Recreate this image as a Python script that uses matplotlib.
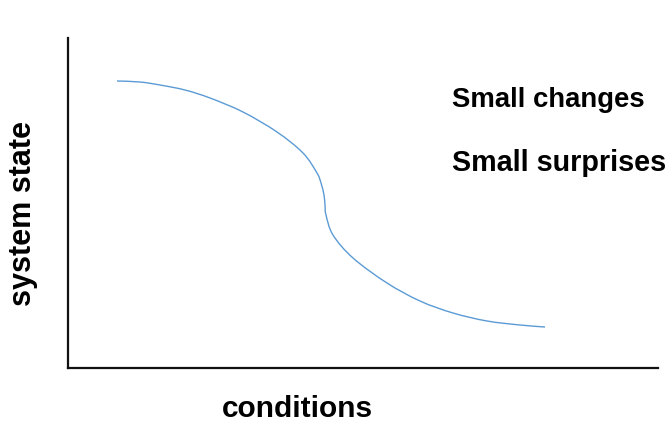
import matplotlib
matplotlib.use("Agg")
import matplotlib.pyplot as plt
from matplotlib.path import Path
from matplotlib.patches import PathPatch

# curve (arbitrary units: conditions -> right, state -> up)
conditions = [49, 72, 92, 117, 142, 175, 209, 235, 249, 253, 256, 257, 258,
              265, 285, 319, 352, 385, 419, 452, 477]
state = [287, 286, 283, 278, 270, 256, 236, 215, 195, 185, 173, 163, 153,
         133, 110, 85, 67, 55, 47, 43, 41]

annotations = ["Small changes", "Small surprises"]
annotation_sizes = [19.8, 20.7]

plt.rcParams["font.family"] = ["Liberation Sans", "DejaVu Sans"]

fig = plt.figure(figsize=(6.72, 4.24), dpi=100)
ax = fig.add_axes([68 / 672, 56 / 424, 590 / 672, 330 / 424])
ax.set_xlim(0, 590)
ax.set_ylim(0, 330)

# smooth curve through the read points (Catmull-Rom as cubic bezier segments)
pts = list(zip(conditions, state))
verts = [pts[0]]
codes = [Path.MOVETO]
for i in range(len(pts) - 1):
    p0 = pts[i - 1] if i > 0 else pts[i]
    p1, p2 = pts[i], pts[i + 1]
    p3 = pts[i + 2] if i + 2 < len(pts) else p2
    c1 = (p1[0] + (p2[0] - p0[0]) / 6, p1[1] + (p2[1] - p0[1]) / 6)
    c2 = (p2[0] - (p3[0] - p1[0]) / 6, p2[1] - (p3[1] - p1[1]) / 6)
    verts += [c1, c2, p2]
    codes += [Path.CURVE4] * 3
ax.add_patch(PathPatch(Path(verts, codes), fill=False, edgecolor="#5B9BD5", lw=1.0))

for s in ("top", "right"):
    ax.spines[s].set_visible(False)
for s in ("left", "bottom"):
    ax.spines[s].set_linewidth(1.6)
    ax.spines[s].set_color("#111111")
ax.set_xticks([])
ax.set_yticks([])

fig.text(297 / 672, 1 - 409 / 424, "conditions", fontsize=21.5, fontweight="bold",
         ha="center", va="center")
fig.text(23 / 672, 1 - 213 / 424, "system state", fontsize=22, fontweight="bold",
         ha="center", va="center", rotation=90)

for txt, y, fs in zip(annotations, [100, 163], annotation_sizes):
    fig.text(452 / 672, 1 - y / 424, txt, fontsize=fs, fontweight="bold", va="center")

fig.savefig("out.png", dpi=100)
